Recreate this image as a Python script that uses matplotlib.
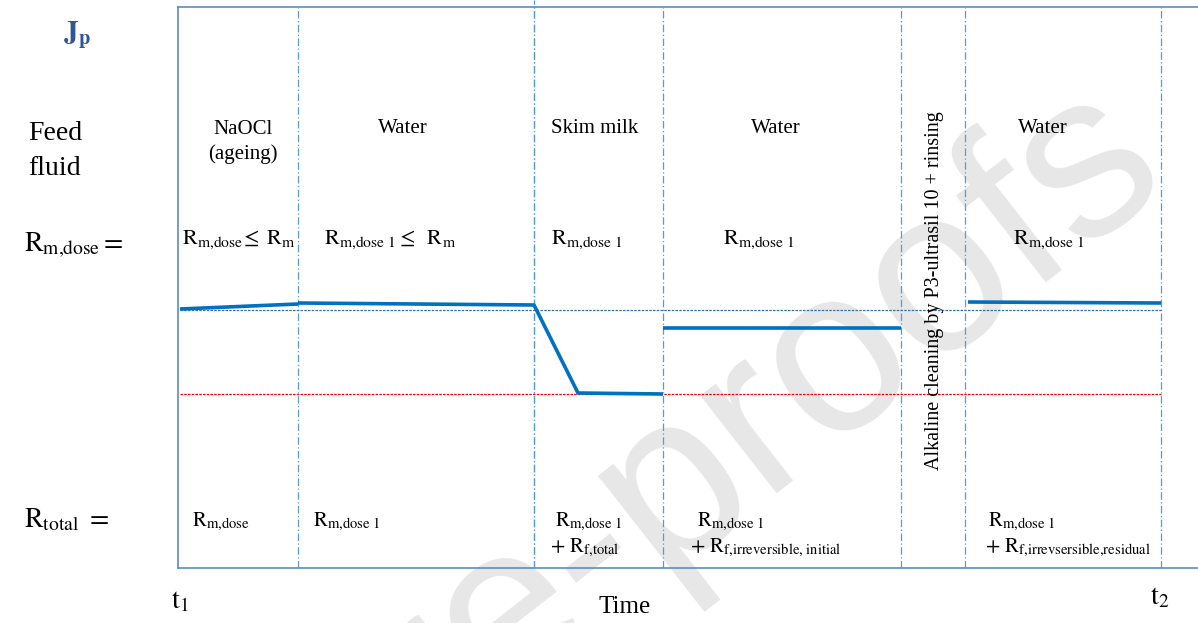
import matplotlib
matplotlib.use("Agg")
import matplotlib.pyplot as plt

plt.rcParams['font.family'] = ['Liberation Serif', 'DejaVu Serif']
plt.rcParams['mathtext.fontset'] = 'stix'

W, H = 1198, 623

# Phase boundaries (time axis, schematic units = pixel columns)
boundaries = [298, 534, 663, 901, 965, 1161]
t_start, t_end = 180, 1161

# Flux segments in schematic flux units (higher = larger flux)
flux_x = [[180, 298], [298, 534, 578, 663], [663, 901], [968, 1161]]
flux_y = [[314, 319], [320, 318, 230, 229], [295, 295], [321, 320]]
ref_initial = 313      # blue dotted reference level
ref_fouled = 229       # red dotted level

feed_labels = ["NaOCl\n(ageing)", "Water", "Skim milk", "Water", "Water"]
feed_x = [243, 403, 595, 776, 1043]

fig = plt.figure(figsize=(W / 100, H / 100), dpi=100)
ax = fig.add_axes([178 / W, (H - 568) / H, (W - 178) / W, (568 - 7) / H])
ax.set_xlim(178, 1198)
ax.set_ylim(H - 568, H - 7)
ax.set_xticks([])
ax.set_yticks([])
ax.patch.set_alpha(0)
spine_col = '#5B8CC8'
for s in ['left', 'top', 'bottom']:
    ax.spines[s].set_color(spine_col)
    ax.spines[s].set_linewidth(1.2)
ax.spines['right'].set_visible(False)

# watermark (drawn behind everything)
fig.text(1136 / W, 1 - 136 / H, "Journal Pre-proofs", fontsize=168, color='#e7e7e7',
         family='Liberation Sans', rotation=38, rotation_mode='anchor',
         ha='right', va='center', zorder=-5)

# vertical dashed separators
for b in boundaries:
    ax.axvline(b, color='#5B9BD5', lw=0.9, ls=(0, (6, 2, 1, 2)), zorder=2)
ax.plot([534, 534], [H - 568, H], color='#5B9BD5', lw=0.9, ls=(0, (6, 2, 1, 2)),
        clip_on=False, zorder=2)

# reference levels
ax.plot([t_start, t_end], [ref_initial, ref_initial], color='#2E75B6', lw=0.9, ls=(0, (2, 1)), zorder=2)
ax.plot([t_start, t_end], [ref_fouled, ref_fouled], color='#FF0000', lw=0.9, ls=(0, (2, 1)), zorder=2)

# flux lines
for xs, ys in zip(flux_x, flux_y):
    ax.plot(xs, ys, color='#0070C0', lw=2.6, solid_capstyle='butt', zorder=3)

# feed fluid labels
for lab, x in zip(feed_labels, feed_x):
    if '\n' in lab:
        ax.text(x, H - 142, lab, fontsize=15, ha='center', va='center',
                linespacing=1.3, multialignment='center')
    else:
        ax.text(x, H - 128, lab, fontsize=15, ha='center', va='center')

ax.text(935, H - 291, "Alkaline cleaning by P3-ultrasil 10 + rinsing", fontsize=14.5,
        rotation=90, ha='center', va='center')

# R_m,dose row
rm_row = [(182, r"$\mathrm{R}_{\mathrm{m{,}dose}}\!\leq\;\mathrm{R}_{\mathrm{m}}$"),
          (324, r"$\mathrm{R}_{\mathrm{m{,}dose\ 1}}\leq\;\;\mathrm{R}_{\mathrm{m}}$"),
          (551, r"$\mathrm{R}_{\mathrm{m{,}dose\ 1}}$"),
          (723, r"$\mathrm{R}_{\mathrm{m{,}dose\ 1}}$"),
          (1013, r"$\mathrm{R}_{\mathrm{m{,}dose\ 1}}$")]
for x, t in rm_row:
    ax.text(x, H - 240, t, fontsize=16, ha='left', va='center')

# R_total row
rt_row = [(192, H - 522, r"$\mathrm{R}_{\mathrm{m{,}dose}}$"),
          (313, H - 522, r"$\mathrm{R}_{\mathrm{m{,}dose\ 1}}$"),
          (555, H - 522, r"$\mathrm{R}_{\mathrm{m{,}dose\ 1}}$"),
          (550, H - 548, r"$+\ \mathrm{R}_{\mathrm{f{,}total}}$"),
          (697, H - 522, r"$\mathrm{R}_{\mathrm{m{,}dose\ 1}}$"),
          (690, H - 548, r"$+\ \mathrm{R}_{\mathrm{f{,}irreversible{,}\ initial}}$"),
          (988, H - 522, r"$\mathrm{R}_{\mathrm{m{,}dose\ 1}}$"),
          (985, H - 548, r"$+\ \mathrm{R}_{\mathrm{f{,}irrevsersible{,}residual}}$")]
for x, y, t in rt_row:
    ax.text(x, y, t, fontsize=15, ha='left', va='center')

# left-hand labels (figure pixel coordinates)
def ftext(x, y, s, **kw):
    fig.text(x / W, 1 - y / H, s, **kw)

ftext(77, 35, r"$\mathbf{J}_{\mathbf{p}}$", fontsize=21, color='#2F5597', ha='center', va='center')
ftext(55, 151, "Feed\nfluid", fontsize=20, ha='center', va='center', linespacing=1.5,
      multialignment='center')
ftext(24, 245, r"$\mathrm{R}_{\mathrm{m{,}dose}}=$", fontsize=20, ha='left', va='center')
ftext(24, 520, r"$\mathrm{R}_{\mathrm{total}}\ =$", fontsize=20, ha='left', va='center')
ftext(180, 602, r"$\mathrm{t}_{1}$", fontsize=20, ha='center', va='center')
ftext(1160, 598, r"$\mathrm{t}_{2}$", fontsize=20, ha='center', va='center')
ftext(625, 607, "Time", fontsize=18, ha='center', va='center')

fig.savefig("out.png", dpi=100)
